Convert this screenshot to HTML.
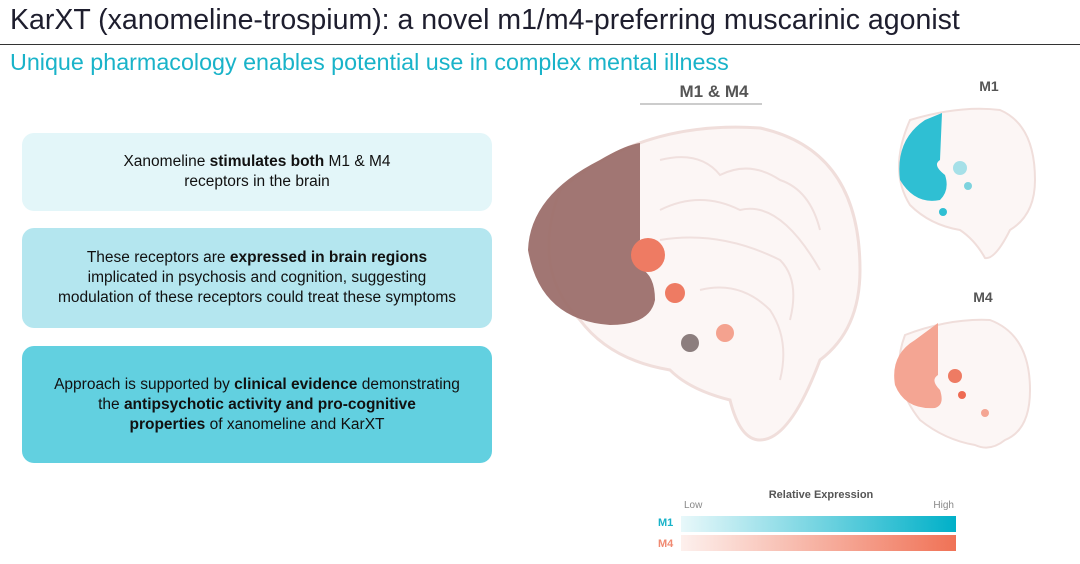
<!DOCTYPE html>
<html><head><meta charset="utf-8"><style>
body{margin:0;width:1080px;height:564px;background:#fff;font-family:"Liberation Sans","DejaVu Sans",sans-serif;overflow:hidden;position:relative}
.t{position:absolute;left:10px;top:4px;font-size:28.5px;color:#1e1e2e;white-space:nowrap}
.ln{position:absolute;left:0;top:44px;width:1080px;height:1px;background:#333}
.s{position:absolute;left:10px;top:49px;font-size:23.3px;color:#19b3c9;white-space:nowrap}
.b{position:absolute;left:22px;width:470px;border-radius:12px;display:flex;align-items:center;justify-content:center;text-align:center;font-size:15.5px;color:#111;line-height:20px}
</style></head><body>
<div class="t">KarXT (xanomeline-trospium): a novel m1/m4-preferring muscarinic agonist</div>
<div class="ln"></div>
<div class="s">Unique pharmacology enables potential use in complex mental illness</div>
<div class="b" style="top:133px;height:78px;background:#e3f6f9"><div>Xanomeline <b>stimulates both</b> M1 &amp; M4<br>receptors in the brain</div></div>
<div class="b" style="top:228px;height:100px;background:#b4e6ef"><div>These receptors are <b>expressed in brain regions</b><br>implicated in psychosis and cognition, suggesting<br>modulation of these receptors could treat these symptoms</div></div>
<div class="b" style="top:346px;height:117px;background:#62d0e0"><div>Approach is supported by <b>clinical evidence</b> demonstrating<br>the <b>antipsychotic activity and pro-cognitive<br>properties</b> of xanomeline and KarXT</div></div>
<svg width="1080" height="564" style="position:absolute;left:0;top:0">
<defs>
<linearGradient id="g1"><stop offset="0" stop-color="#e8f8fa"/><stop offset="1" stop-color="#00b0c8"/></linearGradient>
<linearGradient id="g4"><stop offset="0" stop-color="#fdf0ed"/><stop offset="1" stop-color="#f07256"/></linearGradient>
</defs>
<text x="714" y="97" font-size="17" font-weight="bold" fill="#555" text-anchor="middle">M1 &amp; M4</text>
<line x1="640" y1="104" x2="762" y2="104" stroke="#999" stroke-width="1"/>
<text x="989" y="91" font-size="14" font-weight="bold" fill="#555" text-anchor="middle">M1</text>
<text x="983" y="302" font-size="14" font-weight="bold" fill="#555" text-anchor="middle">M4</text>
<path d="M560,190 Q640,120 760,128 Q860,150 860,270 Q860,330 820,360 Q790,440 760,440 Q740,440 730,400 Q690,390 670,370 Q610,360 580,320 Q530,270 560,190Z" fill="#fcf6f5" stroke="#f0dedb" stroke-width="3"/>
<g stroke="#f0e0de" stroke-width="2" fill="none">
<path d="M660,160 Q700,150 720,175 Q750,160 780,180 Q810,190 820,230"/>
<path d="M660,210 Q700,190 740,210 Q780,200 820,270"/>
<path d="M660,240 Q720,230 780,260 Q800,280 790,320"/>
<path d="M700,290 Q740,280 770,310 Q790,340 780,380"/>
</g>
<path d="M600,160 Q625,145 640,143 L640,240 Q625,250 640,268 Q655,275 655,300 Q650,325 610,325 Q540,320 528,250 Q530,195 600,160Z" fill="#9c6f6c" opacity=".95"/>
<circle cx="648" cy="255" r="17" fill="#ee7b63"/>
<circle cx="675" cy="293" r="10" fill="#ee7b63"/>
<circle cx="725" cy="333" r="9" fill="#f4a28f"/>
<circle cx="690" cy="343" r="9" fill="#8c7e7e"/>
<path d="M910,120 Q960,105 1000,110 Q1035,125 1035,180 Q1035,215 1010,230 Q995,260 985,258 Q975,240 960,230 Q930,225 910,205 Q888,170 910,120Z" fill="#fcf6f5" stroke="#f0dedb" stroke-width="2"/>
<path d="M925,120 L942,113 L940,160 Q932,165 945,175 Q950,190 940,200 Q915,205 900,180 Q895,140 925,120Z" fill="#2fbfd3"/>
<circle cx="960" cy="168" r="7" fill="#a6e0e8"/>
<circle cx="968" cy="186" r="4" fill="#7ed3de"/>
<circle cx="943" cy="212" r="4" fill="#2fbfd3"/>
<path d="M905,335 Q950,318 990,320 Q1030,335 1030,390 Q1030,430 1005,440 Q990,452 975,445 Q945,440 920,420 Q888,380 905,335Z" fill="#fcf6f5" stroke="#f0dedb" stroke-width="2"/>
<path d="M915,340 L938,323 L938,375 Q930,380 940,390 Q945,405 935,408 Q905,410 895,385 Q890,355 915,340Z" fill="#f4a593"/>
<circle cx="955" cy="376" r="7" fill="#ee7b63"/>
<circle cx="962" cy="395" r="4" fill="#ee6a52"/>
<circle cx="985" cy="413" r="4" fill="#f4a593"/>
<text x="821" y="498" font-size="11" font-weight="bold" fill="#555" text-anchor="middle">Relative Expression</text>
<text x="684" y="508" font-size="10" fill="#888">Low</text>
<text x="954" y="508" font-size="10" fill="#888" text-anchor="end">High</text>
<text x="658" y="526" font-size="11" font-weight="bold" fill="#19b3c9">M1</text>
<text x="658" y="547" font-size="11" font-weight="bold" fill="#f08a72">M4</text>
<rect x="681" y="516" width="275" height="16" fill="url(#g1)"/>
<rect x="681" y="535" width="275" height="16" fill="url(#g4)"/>
</svg>
</body></html>
